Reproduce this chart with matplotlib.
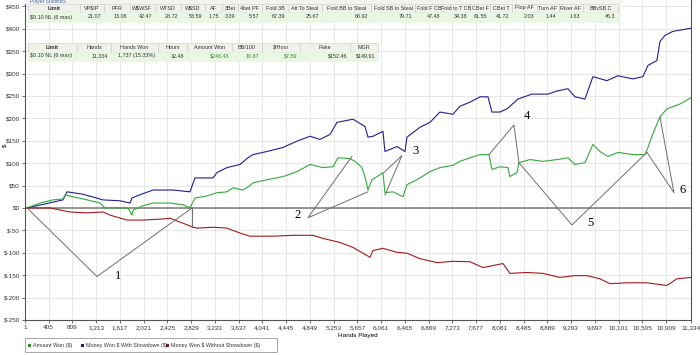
import matplotlib
matplotlib.use('Agg')
from matplotlib import pyplot as plt
from matplotlib.patches import Rectangle
from matplotlib.ticker import FuncFormatter, FixedLocator

plt.rcParams['text.parse_math'] = False
plt.rcParams['font.family'] = ['Liberation Sans', 'DejaVu Sans']

# ---- data (hands played, $) ----
blue_hands = [1, 35, 648, 716, 971, 1141, 1328, 1617, 1788, 1822, 1907, 2179, 2519, 2808, 2894,
              3200, 3268, 3438, 3659, 3795, 3880, 4119, 4391, 4629, 4850, 5021, 5191, 5310, 5582,
              5786, 5837, 5922, 6092, 6126, 6330, 6467, 6501, 6722, 6892, 7062, 7283, 7402, 7573,
              7743, 7879, 7947, 8083, 8202, 8389, 8627, 8899, 9053, 9240, 9359, 9529, 9665, 9904,
              10091, 10346, 10516, 10601, 10754, 10805, 10890, 11026, 11334]
blue_won = [0, 0, 18, 36, 31, 25, 18, 16, 11, 22, 27, 40, 40, 36, 67,
            67, 79, 90, 97, 112, 119, 126, 135, 149, 160, 153, 164, 191, 198,
            182, 158, 160, 171, 126, 137, 126, 158, 180, 191, 214, 209, 227, 236,
            248, 248, 214, 214, 221, 243, 254, 254, 261, 266, 248, 243, 293, 284,
            295, 288, 293, 318, 329, 371, 385, 394, 401]

green_hands = [1, 35, 256, 477, 648, 682, 818, 1056, 1277, 1362, 1617, 1754, 1822, 1839, 2009,
               2179, 2468, 2689, 2808, 2894, 3098, 3268, 3438, 3540, 3710, 3829, 3880, 4119, 4391,
               4629, 4850, 5072, 5242, 5327, 5531, 5616, 5735, 5786, 5837, 5905, 6041, 6092, 6126,
               6262, 6433, 6501, 6671, 6892, 7062, 7283, 7402, 7573, 7743, 7896, 7947, 8083, 8219,
               8253, 8372, 8406, 8593, 8815, 9053, 9240, 9359, 9529, 9665, 9784, 9921, 10091, 10346,
               10550, 10601, 10669, 10805, 10924, 11146, 11334]
green_won = [0, 0, 11, 18, 20, 29, 25, 18, 11, 0, 0, 0, -16, -5, 5,
             11, 11, 7, 0, 22, 27, 34, 36, 45, 40, 50, 56, 63, 70,
             81, 97, 90, 92, 112, 110, 104, 90, 70, 40, 63, 74, 79, 34,
             36, 25, 52, 63, 81, 90, 95, 104, 112, 119, 119, 86, 92, 90,
             70, 79, 101, 108, 104, 108, 112, 97, 101, 142, 126, 115, 124, 119,
             119, 135, 160, 203, 221, 232, 246]

red_hands = [1, 426, 766, 1056, 1328, 1447, 1736, 2009, 2298, 2468, 2689, 2860, 2928, 3200, 3438,
             3659, 3829, 4221, 4561, 4901, 5072, 5361, 5582, 5871, 5922, 6092, 6330, 6501, 6722,
             7011, 7283, 7573, 7794, 8134, 8253, 8542, 8815, 9104, 9359, 9563, 9784, 9955, 10244,
             10584, 10924, 11095, 11334]
red_won = [0, 0, -9, -11, -9, -16, -27, -27, -25, -23, -34, -43, -45, -43, -45,
           -56, -63, -63, -61, -61, -68, -77, -88, -110, -95, -90, -99, -101, -113,
           -122, -119, -120, -133, -124, -146, -144, -146, -155, -151, -151, -158, -169, -167,
           -167, -173, -158, -155]

x_ticks = list(range(1, 10910, 404)) + [11334]
y_ticks = list(range(-250, 451, 50))

# hand drawn callouts: number, label point, polylines
callouts = [
    ('1', (1584, -151), [[(35, 0), (1226, -153), (2843, 0)], [(2843, 0), (2843, -43)]]),
    ('2', (4646, -16), [[(5564, 115), (4815, -22), (5837, 36)]]),
    ('3', (6654, 126), [[(6109, 79), (6415, 117), (6126, 29)]]),
    ('4', (8543, 205), [[(7896, 119), (8321, 185), (8406, 101)]]),
    ('5', (9615, -34), [[(8406, 101), (9308, -38), (10585, 124)]]),
    ('6', (11197, 41), [[(10585, 124), (11044, 34), (10806, 203)]]),
]

# stats tables
t1_cols = ['Limit', 'VP$IP', 'PFR', 'W$WSF', 'WTSD', 'W$SD', 'AF', '3Bet', '4bet PF', 'Fold 3B',
           'Att To Steal', 'Fold BB to Steal', 'Fold SB to Steal', 'Fold F CB', 'Fold to T CB',
           'CBet F', 'CBet T', 'Flop AF', 'Turn AF', 'River AF', 'BBvSB.C']
t1_vals = ['$0.10 NL (6 max)', '21.07', '13.08', '42.47', '28.72', '53.59', '1.75', '3.39', '5.57',
           '67.39', '25.67', '68.92', '79.71', '47.48', '34.38', '61.55', '41.72', '2.03', '1.44',
           '1.63', '46.3']
t1_edges = [28, 80, 104, 130, 155, 181, 205, 222, 238, 262, 288, 322, 371, 415, 443, 470, 490,
            512, 537, 559, 583, 618]

t2_cols = ['Limit', 'Hands', 'Hands Won', 'Hours', 'Amount Won', 'BB/100', '$/Hour', 'Rake', 'MGR']
t2_vals = ['$0.10 NL (6 max)', '11,334', '1,737 (15.33%)', '32.48', '$246.43', '10.87', '$7.59',
           '$152.46', '$149.91']
t2_edges = [28, 77, 111, 158, 187, 232, 262, 300, 350, 378]
t2_green = {4, 5, 6}

GREEN = '#33a83a'
NAVY = '#1f1f8f'
RED = '#a3191c'

W, H = 700, 355
fig = plt.figure(figsize=(W / 100, H / 100), dpi=100)
ax = fig.add_axes([25 / W, 35 / H, 666 / W, 320 / H])

ax.grid(True, color='#e3e3e3', linewidth=0.6)
ax.set_axisbelow(True)
ax.axhline(0, color='#8c8c8c', linewidth=1.3, zorder=2)

ax.plot(blue_hands, blue_won, color=NAVY, linewidth=0.8, zorder=3)
ax.plot(green_hands, green_won, color=GREEN, linewidth=0.8, zorder=3)
ax.plot(red_hands, red_won, color=RED, linewidth=0.8, zorder=3)

for num, (lx, ly), segs in callouts:
    for seg in segs:
        ax.plot([p[0] for p in seg], [p[1] for p in seg], color='#6e6e6e', linewidth=0.7, zorder=4)
    ax.text(lx, ly, num, family='Liberation Serif', fontsize=9, ha='center', va='center', zorder=5)

ax.set_xlim(1, 11334)
ax.set_ylim(-250, 464)
ax.xaxis.set_major_locator(FixedLocator(x_ticks))
ax.yaxis.set_major_locator(FixedLocator(y_ticks))
ax.xaxis.set_major_formatter(FuncFormatter(lambda v, p: f'{int(v):,}'))
ax.yaxis.set_major_formatter(FuncFormatter(lambda v, p: f'${int(v)}'))
ax.tick_params(labelsize=4.6, length=2, width=0.5, pad=1.5, colors='#333333')
ax.set_xlabel('Hands Played', fontsize=4.6, labelpad=2)
ax.spines['top'].set_visible(False)
for s in ['left', 'bottom', 'right']:
    ax.spines[s].set_color('#555555')
    ax.spines[s].set_linewidth(0.8)
fig.text(5 / W, 1 - 145 / H, '$', fontsize=4.6, rotation=90, ha='center', va='center')

# overlay in pixel coordinates for the tables and legend
ov = fig.add_axes([0, 0, 1, 1], zorder=10)
ov.set_xlim(0, W)
ov.set_ylim(H, 0)
ov.axis('off')
ov.patch.set_alpha(0)


def draw_table(cols, vals, edges, top, hh, dh, green_idx=()):
    for i, (c, v) in enumerate(zip(cols, vals)):
        x0, x1 = edges[i], edges[i + 1]
        ov.add_patch(Rectangle((x0, top), x1 - x0, hh, facecolor='#f1f0ea', edgecolor='#c9c9c9', linewidth=0.4))
        ov.add_patch(Rectangle((x0, top + hh), x1 - x0, dh, facecolor='#e8f6e2', edgecolor='#e8f6e2', linewidth=0.4))
        ov.text((x0 + x1) / 2, top + hh / 2, c, fontsize=3.9, ha='center', va='center',
                weight='bold' if i == 0 else 'normal', color='#333333')
        if i == 0:
            ov.text(x0 + 2, top + hh + dh / 2, v, fontsize=3.9, ha='left', va='center', color='#333333')
        else:
            ov.text(x1 - 3, top + hh + dh / 2, v, fontsize=3.9, ha='right', va='center',
                    color='#2f8a2f' if i in green_idx else '#333333')


ov.add_patch(Rectangle((25, 0), 598, 4, facecolor='#f3f2ec', edgecolor='none'))
ov.text(30, 2, 'Player Statistics', fontsize=3.6, color='#4a6fa5', ha='left', va='center')
draw_table(t1_cols, t1_vals, t1_edges, 4, 8, 10)
draw_table(t2_cols, t2_vals, t2_edges, 43, 8.5, 9, t2_green)

# legend
ov.add_patch(Rectangle((25, 338), 252, 14, facecolor='white', edgecolor='#9a9a9a', linewidth=0.6))
for sx, col, lab in [(29, '#2e8b2e', 'Amount Won ($)'),
                     (82, '#1c1c6b', 'Money Won $ With Showdown ($)'),
                     (167, '#7a1a2c', 'Money Won $ Without Showdown ($)')]:
    ov.add_patch(Rectangle((sx - 1.5, 343.5), 3.5, 3.5, facecolor=col, edgecolor='none'))
    ov.text(sx + 4, 345.5, lab, fontsize=3.9, ha='left', va='center', color='#333333')

fig.savefig('out.png', dpi=100)
